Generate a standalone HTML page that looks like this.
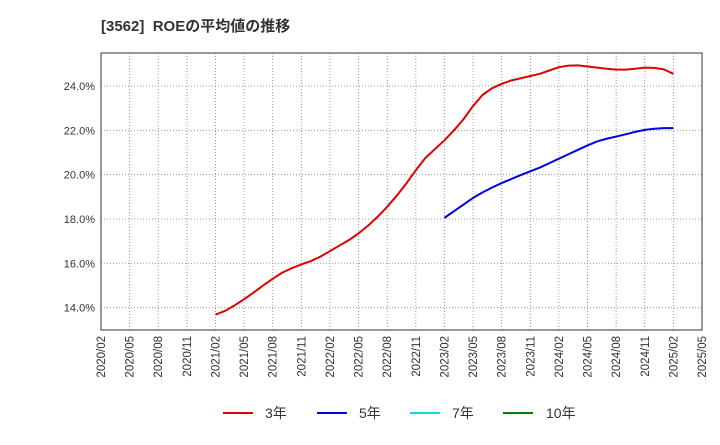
<!DOCTYPE html>
<html><head><meta charset="utf-8"><style>
body{margin:0;background:#fff;font-family:"Liberation Sans","Noto Sans CJK JP",sans-serif;}
</style></head><body>
<svg width="720" height="440" xmlns="http://www.w3.org/2000/svg" font-family="Liberation Sans, Noto Sans CJK JP, sans-serif">
<text x="101" y="31" font-size="15" font-weight="bold" fill="#333">[3562]&#160; ROEの平均値の推移</text>
<g id="grid"></g>
<rect x="101" y="53" width="601" height="277" fill="none" stroke="#333" stroke-width="1"/>
<g id="series"></g>
<g id="axes"></g>
<g id="legend" font-size="14" fill="#333">
<line x1="223" y1="413" x2="253" y2="413" stroke="#e00000" stroke-width="2"/>
<text x="265" y="418">3年</text>
<line x1="317" y1="413" x2="347" y2="413" stroke="#0000e0" stroke-width="2"/>
<text x="359" y="418">5年</text>
<line x1="410" y1="413" x2="440" y2="413" stroke="#00e0e0" stroke-width="2"/>
<text x="452" y="418">7年</text>
<line x1="503" y1="413" x2="533" y2="413" stroke="#008000" stroke-width="2"/>
<text x="546" y="418">10年</text>
</g>
</svg>
<script>
const xTickLabels=["2020/02","2020/05","2020/08","2020/11","2021/02","2021/05","2021/08","2021/11","2022/02","2022/05","2022/08","2022/11","2023/02","2023/05","2023/08","2023/11","2024/02","2024/05","2024/08","2024/11","2025/02","2025/05"];
const yTicks=[14,16,18,20,22,24];
const red3Start=12;
const red3=[13.68,13.85,14.1,14.38,14.68,15.0,15.3,15.58,15.78,15.95,16.1,16.3,16.55,16.8,17.05,17.35,17.7,18.1,18.55,19.05,19.6,20.2,20.75,21.15,21.55,22.0,22.5,23.1,23.6,23.9,24.1,24.25,24.35,24.45,24.55,24.7,24.85,24.92,24.93,24.88,24.83,24.78,24.74,24.74,24.78,24.83,24.82,24.75,24.55];
const blue5Start=36;
const blue5=[18.05,18.35,18.65,18.95,19.2,19.42,19.62,19.8,19.98,20.15,20.32,20.52,20.72,20.92,21.12,21.32,21.5,21.62,21.72,21.82,21.93,22.02,22.07,22.1,22.1];
const NS="http://www.w3.org/2000/svg";
const X0=101,X1=702,Y0=330,Y1=53,MONTHS=63,VMIN=12.99,VMAX=25.49;
function xs(m){return X0+(X1-X0)*m/MONTHS;}
function ys(v){return Y0-(Y0-Y1)*(v-VMIN)/(VMAX-VMIN);}
function mk(t,a,p){const e=document.createElementNS(NS,t);for(const k in a)e.setAttribute(k,a[k]);p.appendChild(e);return e;}
const grid=document.getElementById('grid'),axes=document.getElementById('axes'),ser=document.getElementById('series');
xTickLabels.forEach((l,i)=>{const x=xs(i*3);
 const g=mk('line',{x1:x,x2:x,y1:Y1,y2:Y0,stroke:'#999','stroke-dasharray':'1,2'},grid);
 
 
 const t=mk('text',{transform:`translate(${x+4},${Y0+6}) rotate(-90)`,'text-anchor':'end','font-size':'11.5',fill:'#333'},axes);
 t.textContent=l;
 
 
});
yTicks.forEach(v=>{const y=ys(v);
 const g=mk('line',{x1:X0,x2:X1,y1:y,y2:y,stroke:'#999','stroke-dasharray':'1,2'},grid);
 
 
 const t=mk('text',{x:X0-6,y:y+4,'text-anchor':'end','font-size':'11',fill:'#333'},axes);
 t.textContent=v.toFixed(1)+'%';
 
 
});
function line(d,s,c,n){const p=mk('polyline',{points:d.map((v,i)=>xs(s+i)+','+ys(v)).join(' '),fill:'none',stroke:c,'stroke-width':2,'stroke-linejoin':'round'},ser);
 
 }
line(red3,red3Start,'#e00000','series-3y');
line(blue5,blue5Start,'#0000e0','series-5y');
</script>
</body></html>
